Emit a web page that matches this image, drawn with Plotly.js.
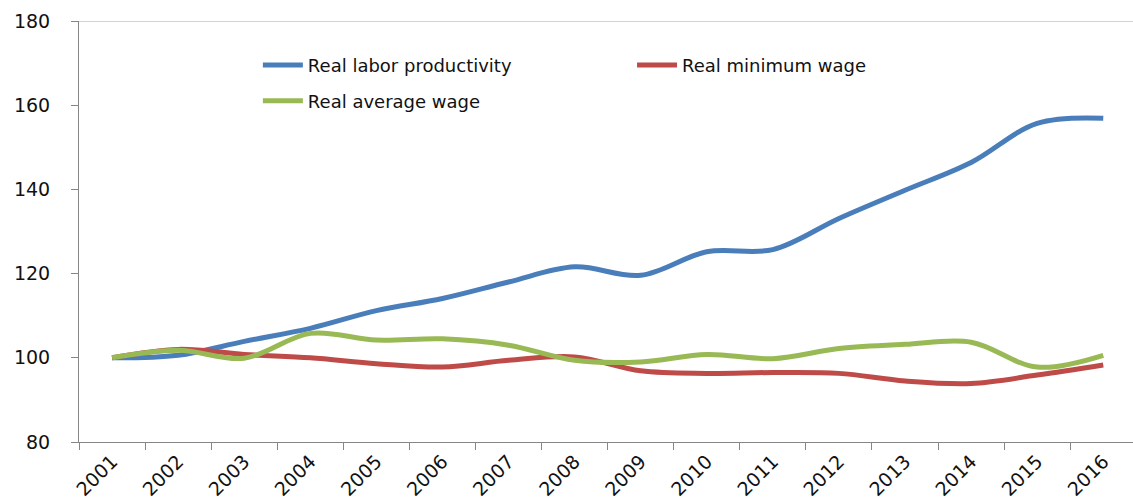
<!DOCTYPE html>
<html>
<head>
<meta charset="utf-8">
<script src="https://cdn.plot.ly/plotly-3.0.1.min.js"></script>
<style>
html,body{margin:0;padding:0;background:#fff;}
#chart{width:1133px;height:500px;}
</style>
</head>
<body>
<div id="chart"></div>
<script>
const years = ["2001","2002","2003","2004","2005","2006","2007","2008","2009","2010","2011","2012","2013","2014","2015","2016"];
const laborProductivity = [100, 100.6, 103.9, 107.0, 111.2, 114.1, 118.0, 121.6, 119.6, 125.2, 125.7, 133.1, 139.8, 146.4, 155.7, 156.9];
const minimumWage = [100, 102.0, 100.8, 100.0, 98.6, 97.8, 99.4, 100.2, 96.9, 96.3, 96.5, 96.3, 94.5, 93.9, 95.9, 98.3];
const averageWage = [100, 101.8, 99.9, 105.8, 104.2, 104.5, 103.0, 99.4, 99.0, 100.8, 99.8, 102.2, 103.2, 103.7, 97.8, 100.6];
const seriesNames = ["Real labor productivity", "Real minimum wage", "Real average wage"];
const yTicks = [80, 100, 120, 140, 160, 180];

const tickFont = {family: "DejaVu Sans", size: 19, color: "#111"};
const legFont = {family: "DejaVu Sans", size: 18, color: "#111"};

const traces = [
  {x: years, y: laborProductivity, name: seriesNames[0], mode: "lines", line: {color: "#4A7EBB", width: 5, shape: "spline", smoothing: 1}, legend: "legend"},
  {x: years, y: minimumWage, name: seriesNames[1], mode: "lines", line: {color: "#BE4B48", width: 5, shape: "spline", smoothing: 1}, legend: "legend2"},
  {x: years, y: averageWage, name: seriesNames[2], mode: "lines", line: {color: "#98B954", width: 5, shape: "spline", smoothing: 1}, legend: "legend3"}
];

const legBase = {bgcolor: "rgba(0,0,0,0)", borderwidth: 0, font: legFont, xanchor: "left", yanchor: "middle", xref: "paper", yref: "paper", itemwidth: 40};

const layout = {
  width: 1133, height: 500,
  margin: {l: 79, r: 0, t: 21, b: 58, pad: 0},
  paper_bgcolor: "#fff", plot_bgcolor: "#fff",
  showlegend: true,
  legend: Object.assign({}, legBase, {x: 0.1697, y: 0.895}),
  legend2: Object.assign({}, legBase, {x: 0.5247, y: 0.895}),
  legend3: Object.assign({}, legBase, {x: 0.1697, y: 0.81}),
  xaxis: {
    type: "category", range: [-0.5, 15.45], tickson: "boundaries",
    showgrid: false, zeroline: false, showline: true, linecolor: "#868686", linewidth: 1,
    ticks: "outside", ticklen: 7, tickcolor: "#868686", tickangle: -45,
    tickfont: tickFont, fixedrange: true
  },
  yaxis: {
    range: [80, 180], tickvals: yTicks, ticktext: yTicks.map(String),
    showgrid: false, zeroline: false, showline: true, linecolor: "#868686", linewidth: 1,
    ticks: "outside", ticklen: 7, tickcolor: "#868686", ticklabelstandoff: 17,
    tickfont: tickFont, fixedrange: true
  },
  shapes: [{type: "line", xref: "paper", yref: "y", x0: 0, x1: 1, y0: 180, y1: 180, line: {color: "#A6A6A6", width: 1}}]
};

Plotly.newPlot("chart", traces, layout, {staticPlot: true, displayModeBar: false});
</script>
</body>
</html>
